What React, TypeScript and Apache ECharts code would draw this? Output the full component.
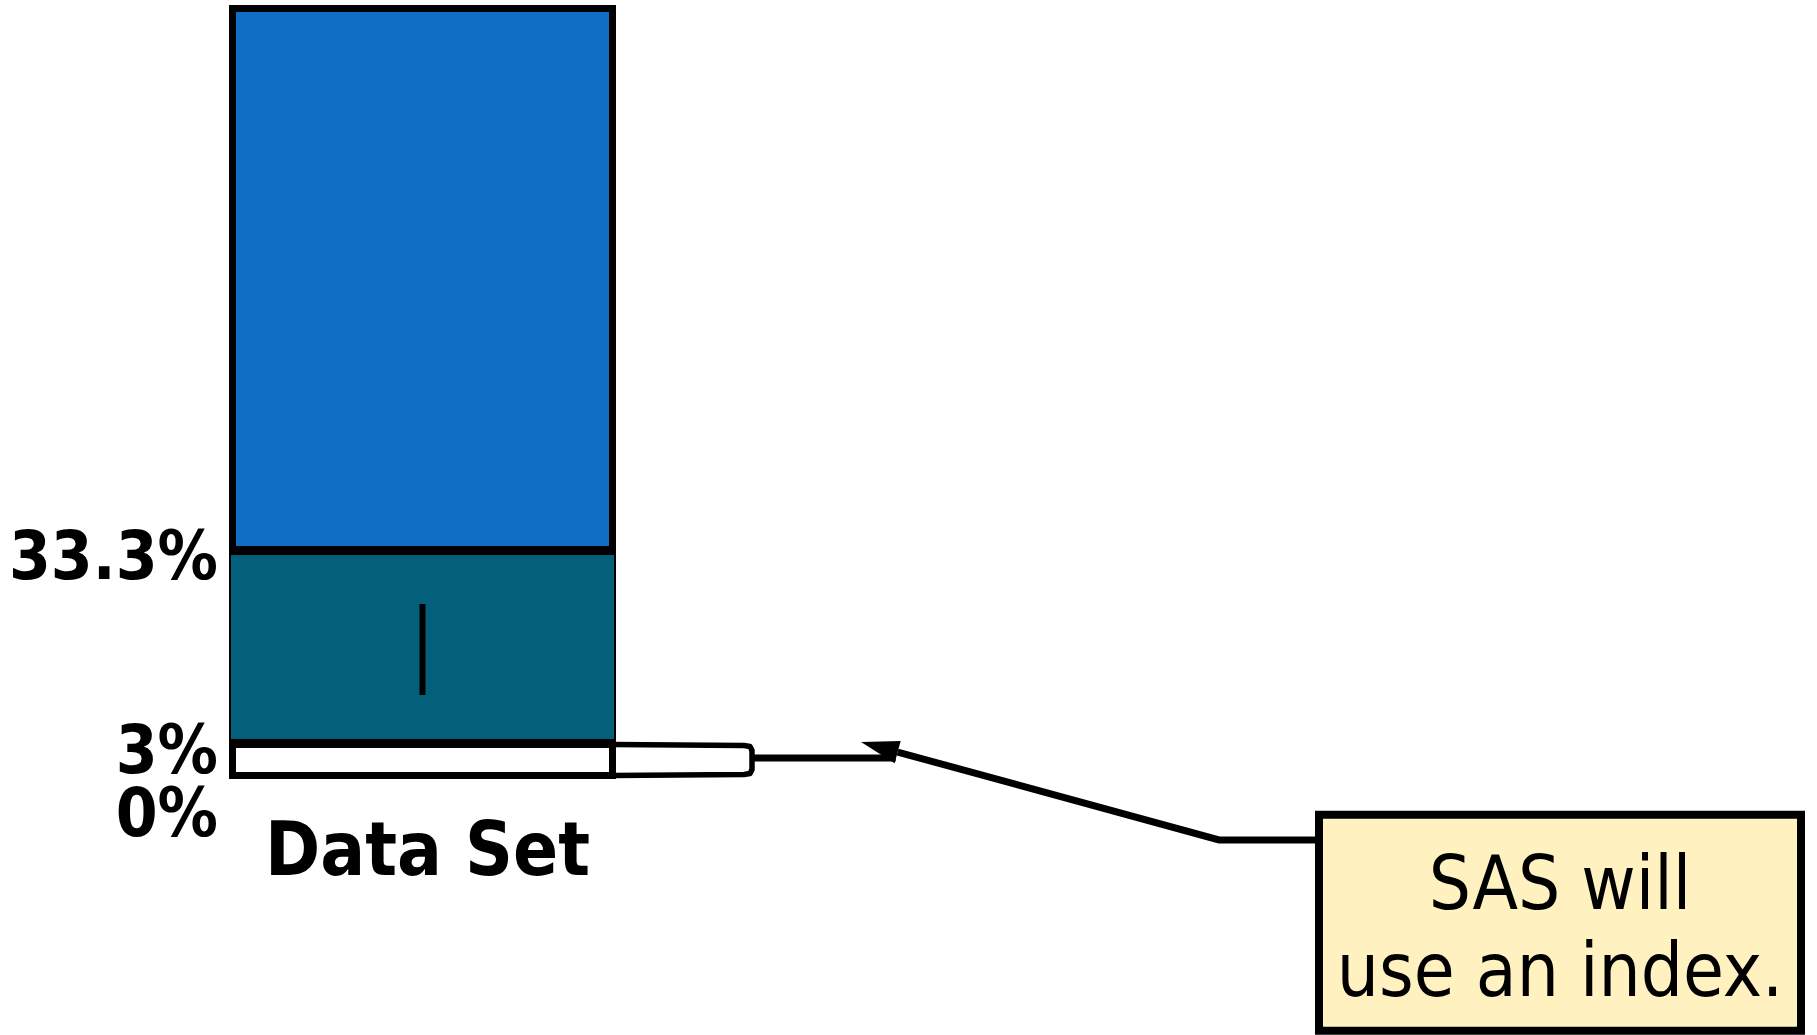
import React, { useEffect, useRef } from "react";
import * as echarts from "echarts";

// ---- data (schematic drawing: segment heights as drawn, in % of bar) ----
const categories = ["Data Set"];
const segmentNames = ["Selected", "Middle", "Rest"];
const segmentHeights = [4.9, 24.3, 70.8];
const segmentColors = ["#FFFFFF", "#04607A", "#106FC5"];
const tickLabels = ["0%", "3%", "33.3%"];
const tickPositions = [-4.45, 3.75, 28.8];
const calloutLines = ["SAS will", "use an index."];

const FONT = "'DejaVu Sans Condensed', 'DejaVu Sans', sans-serif";

export default function App() {
  const ref = useRef<HTMLDivElement>(null);

  useEffect(() => {
    if (!ref.current) return;
    const chart = echarts.init(ref.current, null, { renderer: "svg" });
    const gridLeft = 229;
    const gridWidth = 387;
    const gridTop = 5;
    const gridHeight = 812.7;

    const borderWidths = [7, 2, 7];
    const zs = [3, 2, 4];

    // split tick labels over two left axes so that neighbours are never hidden
    const makeYAxis = (parity: number) => {
      const vals = tickPositions.filter((_, i) => i % 2 === parity);
      return {
        type: "value",
        position: "left",
        min: -5,
        max: 100,
        splitLine: { show: false },
        axisLine: { show: false },
        axisTick: { show: false },
        axisLabel: {
          customValues: vals,
          showMinLabel: true,
          showMaxLabel: true,
          formatter: (v: number) => {
            const i = tickPositions.findIndex((p) => Math.abs(p - v) < 1e-6);
            return i >= 0 ? tickLabels[i] : "";
          },
          margin: 11,
          fontSize: 67,
          lineHeight: 50,
          fontWeight: "bold",
          fontFamily: FONT,
          color: "#000",
        },
      };
    };

    chart.setOption({
      animation: false,
      backgroundColor: "#FFFFFF",
      grid: {
        left: gridLeft,
        top: gridTop,
        width: gridWidth,
        height: gridHeight,
        outerBoundsMode: "none",
      },
      xAxis: {
        type: "category",
        data: categories,
        axisLine: { show: false, onZero: false },
        axisTick: { show: false },
        axisLabel: {
          margin: -5,
          padding: [0, 0, 0, 10],
          fontSize: 74,
          lineHeight: 72,
          fontWeight: "bold",
          fontFamily: FONT,
          color: "#000",
        },
      },
      yAxis: [makeYAxis(0), makeYAxis(1)],
      series: segmentNames.map((name, i) => ({
        name,
        type: "bar",
        stack: "total",
        barWidth: "100%",
        z: zs[i],
        yAxisIndex: 0,
        data: [segmentHeights[i]],
        itemStyle: {
          color: segmentColors[i],
          borderColor: "#000",
          borderWidth: borderWidths[i],
        },
      })),
    });

    // annotation positions derived from the bar through the axes
    const toPx = (v: number) =>
      chart.convertToPixel({ xAxisIndex: 0, yAxisIndex: 0 }, [0, v]) as number[];
    const [cx, yBottom] = toPx(0);
    const [, yWhiteTop] = toPx(segmentHeights[0]);
    const [, yTealTop] = toPx(segmentHeights[0] + segmentHeights[1]);
    const barRight = cx + gridWidth / 2;
    const tealMid = (yWhiteTop + yTealTop) / 2;
    const half = borderWidths[0] / 2;
    const bTop = yWhiteTop + half;
    const bBot = yBottom - half;
    const whiteMid = (bTop + bBot) / 2;

    const bx0 = barRight - half;
    const bx = barRight + 136;
    const tip = [861, 742];
    const elbow = [1219, 840];
    const boxX = 1319;
    const boxY = 814.7;
    const boxW = 482;
    const boxH = 216;
    const dx = elbow[0] - tip[0];
    const dy = elbow[1] - tip[1];
    const len = Math.hypot(dx, dy);
    const ux = dx / len;
    const uy = dy / len;
    const headL = 38;
    const headW = 11.5;
    const base = [tip[0] + ux * headL, tip[1] + uy * headL];

    chart.setOption({
      graphic: [
        {
          type: "rect",
          shape: { x: cx - 3, y: tealMid - 43, width: 6, height: 91 },
          style: { fill: "#000" },
          z: 10,
        },
        {
          type: "polyline",
          shape: {
            points: [
              [bx0, bTop],
              [bx - 8, bTop + 1],
              [bx - 2, bTop + 2],
              [bx, bTop + 6],
              [bx, bBot - 6],
              [bx - 2, bBot - 2],
              [bx - 8, bBot - 1],
              [bx0, bBot],
            ],
          },
          style: { stroke: "#000", lineWidth: 5.5, fill: null, lineJoin: "round" },
          z: 10,
        },
        {
          type: "line",
          shape: { x1: bx, y1: whiteMid - 2, x2: base[0] - 2, y2: whiteMid - 2 },
          style: { stroke: "#000", lineWidth: 7 },
          z: 10,
        },
        {
          type: "polyline",
          shape: { points: [[boxX, elbow[1]], elbow, base] },
          style: { stroke: "#000", lineWidth: 7, fill: null },
          z: 10,
        },
        {
          type: "polygon",
          shape: {
            points: [
              tip,
              [base[0] + uy * headW, base[1] - ux * headW],
              [base[0] - uy * headW, base[1] + ux * headW],
            ],
          },
          style: { fill: "#000" },
          z: 11,
        },
        {
          type: "rect",
          shape: { x: boxX, y: boxY, width: boxW, height: boxH },
          style: { fill: "#FFF2C0", stroke: "#000", lineWidth: 8 },
          z: 10,
        },
        ...calloutLines.map((t, i) => ({
          type: "text",
          x: boxX + boxW / 2,
          y: 883 + i * 87,
          z: 12,
          style: {
            text: t,
            fill: "#000",
            fontSize: 74,
            fontFamily: FONT,
            align: "center",
            verticalAlign: "middle",
          },
        })),
      ],
    });

    return () => chart.dispose();
  }, []);

  return (
    <div
      ref={ref}
      style={{ position: "fixed", left: 0, top: 0, width: 1817, height: 1035 }}
    />
  );
}
